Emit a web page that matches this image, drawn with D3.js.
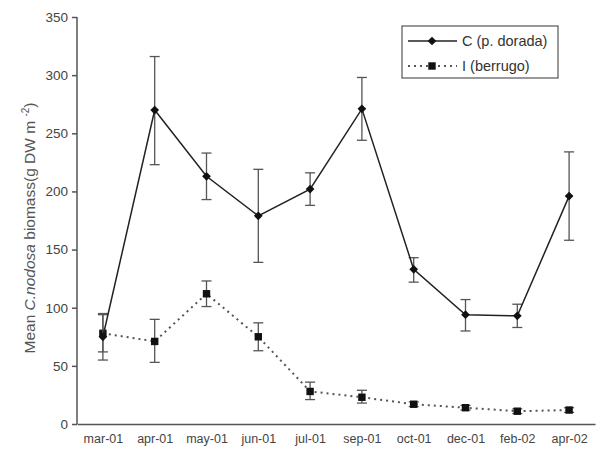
<!DOCTYPE html>
<html><head><meta charset="utf-8">
<script src="https://cdn.jsdelivr.net/npm/d3@7"></script>
<style>body{margin:0;background:#fff}svg{display:block}</style>
</head><body>
<script>
const categories = ["mar-01","apr-01","may-01","jun-01","jul-01","sep-01","oct-01","dec-01","feb-02","apr-02"];
const cMean = [75, 270, 213, 179, 202, 271, 133, 94, 93, 196];
const cHigh = [95, 316, 233, 219, 216, 298, 143, 107, 103, 234];
const cLow  = [55, 223, 193, 139, 188, 244, 122, 80, 83, 158];
const iMean = [78, 71, 112, 75, 28, 23, 17, 14, 11, 12];
const iHigh = [94, 90, 123, 87, 36, 29, 19, 16, 13, 14];
const iLow  = [62, 53, 101, 63, 21, 18, 15, 12, 9, 10];
const yTicks = [0, 50, 100, 150, 200, 250, 300, 350];
const legendLabels = ["C (p. dorada)", "I (berrugo)"];

const W = 599, H = 452;
const svg = d3.select("body").append("svg").attr("width", W).attr("height", H);
const x = d3.scalePoint().domain(categories).range([77, 595]).padding(0.5);
const y = d3.scaleLinear().domain([0, 350]).range([424, 17]);
const col = "#555";
const font = "Liberation Sans, Arial, sans-serif";

// axes
const ya = svg.append("g").attr("transform", "translate(77,0)")
  .call(d3.axisLeft(y).tickValues(yTicks).tickSize(5).tickPadding(4));
ya.select(".domain").attr("stroke", col).attr("stroke-width", 1.5).attr("d", "M0,17V424");
ya.selectAll(".tick line").attr("stroke", col).attr("stroke-width", 1.5);
ya.selectAll(".tick text").attr("fill", "#444").style("font-family", font).style("font-size", "13.5px");

const xa = svg.append("g").attr("transform", "translate(0,424)")
  .call(d3.axisBottom(x).tickSize(0).tickPadding(10));
xa.select(".domain").attr("stroke", col).attr("stroke-width", 1.5);
xa.selectAll(".tick text").attr("fill", "#444").style("font-family", font).style("font-size", "12.5px");

// y label
const yl = svg.append("text").attr("transform", "translate(35,228) rotate(-90)")
  .attr("text-anchor", "middle").attr("fill", "#555")
  .style("font-family", font).style("font-size", "15.5px");
yl.append("tspan").text("Mean ");
yl.append("tspan").style("font-style", "italic").text("C.nodosa");
yl.append("tspan").text("  biomass(g DW m ");
yl.append("tspan").attr("dy", -6).style("font-size", "10px").text("-2");
yl.append("tspan").attr("dy", 6).text(")");

function marker(sel, shape) {
  if (shape === "diamond") {
    sel.attr("d", d3.symbol().type(d3.symbolSquare).size(38));
  } else {
    sel.attr("d", d3.symbol().type(d3.symbolSquare).size(55));
  }
}

function series(mean, hi, lo, dash, shape, lineCol) {
  const g = svg.append("g");
  const pts = categories.map((c, i) => ({c, m: mean[i], h: hi[i], l: lo[i]}));
  const eb = g.selectAll(".eb").data(pts).join("g").attr("stroke", col).attr("stroke-width", 1.3);
  eb.append("line").attr("x1", d => x(d.c)).attr("x2", d => x(d.c)).attr("y1", d => y(d.h)).attr("y2", d => y(d.l));
  eb.append("line").attr("x1", d => x(d.c) - 5).attr("x2", d => x(d.c) + 5).attr("y1", d => y(d.h)).attr("y2", d => y(d.h));
  eb.append("line").attr("x1", d => x(d.c) - 5).attr("x2", d => x(d.c) + 5).attr("y1", d => y(d.l)).attr("y2", d => y(d.l));
  g.append("path").datum(pts)
    .attr("d", d3.line().x(d => x(d.c)).y(d => y(d.m)))
    .attr("fill", "none").attr("stroke", lineCol).attr("stroke-width", dash ? 2 : 1.5)
    .attr("stroke-dasharray", dash || null);
  const rot = shape === "diamond" ? 45 : 0;
  g.selectAll(".mk").data(pts).join("path")
    .attr("transform", d => `translate(${x(d.c)},${y(d.m)}) rotate(${rot})`)
    .call(marker, shape)
    .attr("fill", "#111");
}
series(iMean, iHigh, iLow, "2,4", "square", "#555");
series(cMean, cHigh, cLow, null, "diamond", "#222");

// legend
const lg = svg.append("g");
lg.append("rect").attr("x", 402).attr("y", 26).attr("width", 156).attr("height", 52)
  .attr("fill", "#fff").attr("stroke", col).attr("stroke-width", 1.2);
const legRows = [
  {label: legendLabels[0], dash: null, shape: "diamond", yy: 41, lc: "#222"},
  {label: legendLabels[1], dash: "2,4", shape: "square", yy: 66, lc: "#555"}
];
legRows.forEach(r => {
  lg.append("line").attr("x1", 408).attr("x2", 457).attr("y1", r.yy).attr("y2", r.yy)
    .attr("stroke", r.lc).attr("stroke-width", r.dash ? 2 : 1.5).attr("stroke-dasharray", r.dash);
  lg.append("path").attr("transform", `translate(432,${r.yy}) rotate(${r.shape === "diamond" ? 45 : 0})`)
    .call(marker, r.shape).attr("fill", "#111");
  lg.append("text").attr("x", 462).attr("y", r.yy + 5).attr("fill", "#333")
    .style("font-family", font).style("font-size", "14.5px").text(r.label);
});
</script>
</body></html>
